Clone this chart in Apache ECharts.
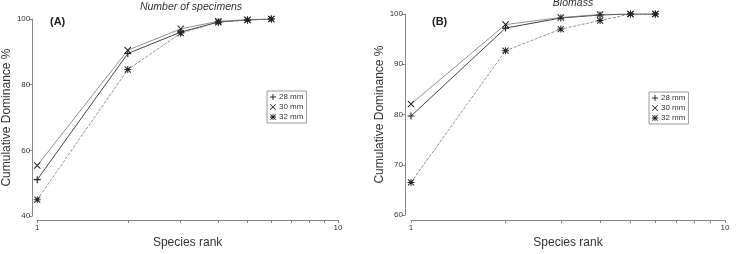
<!DOCTYPE html>
<html><head><meta charset="utf-8">
<script src="https://cdn.jsdelivr.net/npm/echarts@6/dist/echarts.min.js"></script>
<style>html,body{margin:0;padding:0;background:#fff}#c{width:739px;height:254px}</style>
</head><body><div id="c"></div>
<script>
const ranks = [1, 2, 3, 4, 5, 6];
const seriesNames = ['28 mm', '30 mm', '32 mm'];
// (A) Number of specimens
const specimens28 = [51.1, 89.5, 96.0, 99.1, 99.7, 100];
const specimens30 = [55.4, 90.5, 97.0, 99.3, 99.8, 100];
const specimens32 = [45.0, 84.6, 95.7, 99.0, 99.7, 100];
// (B) Biomass
const biomass28 = [79.7, 97.2, 99.2, 99.8, 100, 100];
const biomass30 = [82.1, 97.9, 99.3, 99.9, 100, 100];
const biomass32 = [66.5, 92.7, 97.0, 98.7, 100, 100];
const xTicks = [1, 2, 3, 4, 5, 6, 7, 8, 9, 10];
const xLabels = [1, 10];

const plusP = 'path://M4.2,0H5.8V10H4.2Z M0,4.2H10V5.8H0Z';
const crossP = 'path://M1,0L5,4L9,0L10,1L6,5L10,9L9,10L5,6L1,10L0,9L4,5L0,1Z';
const starP = 'path://M4.3,0H5.7V10H4.3Z M0,4.3H10V5.7H0Z M1.2,0.2L5,4L8.8,0.2L9.8,1.2L6,5L9.8,8.8L8.8,9.8L5,6L1.2,9.8L0.2,8.8L4,5L0.2,1.2Z';
const symbols = [plusP, crossP, starP];
const lineStyles = [
  {color: '#444', width: 1, type: 'solid'},
  {color: '#777', width: 0.8, type: 'solid'},
  {color: '#777', width: 0.8, type: [3, 1.5]}
];
const font = 'Arial, "Liberation Sans", sans-serif';
const axisCol = '#888';
const txtCol = '#333';

function pairs(vals) { return ranks.map((r, i) => [r, vals[i]]); }

function xAxis(idx, off) {
  return {
    type: 'log', logBase: 10, min: 1, max: 10, gridIndex: idx, offset: off,
    name: 'Species rank', nameLocation: 'middle', nameGap: 11,
    nameTextStyle: {fontFamily: font, fontSize: 12, color: txtCol},
    axisLine: {show: true, lineStyle: {color: axisCol, width: 1}},
    axisTick: {show: true, length: 3, customValues: xTicks, lineStyle: {color: axisCol}},
    axisLabel: {customValues: xLabels, fontSize: 8, fontFamily: font, color: txtCol, margin: 4},
    minorTick: {show: false}, splitLine: {show: false}
  };
}
function yAxis(idx, min, max, interval, off, gap) {
  return {
    type: 'value', min: min, max: max, interval: interval, gridIndex: idx, offset: off,
    name: 'Cumulative Dominance %', nameLocation: 'middle', nameGap: gap,
    nameTextStyle: {fontFamily: font, fontSize: 12, color: txtCol},
    axisLine: {show: true, lineStyle: {color: axisCol, width: 1}},
    axisTick: {show: true, length: 3, lineStyle: {color: axisCol}},
    axisLabel: {fontSize: 8, fontFamily: font, color: txtCol, margin: 2},
    splitLine: {show: false}
  };
}
function mkSeries(name, vals, i, idx) {
  return {
    name: name, type: 'line', xAxisIndex: idx, yAxisIndex: idx,
    data: pairs(vals), symbol: symbols[i], symbolSize: 7, showSymbol: true,
    itemStyle: {color: '#222'}, lineStyle: lineStyles[i], animation: false,
    emphasis: {disabled: true}
  };
}
function legend(left, top) {
  return {
    orient: 'vertical', left: left, top: top, itemWidth: 6, itemHeight: 6, itemGap: 2,
    padding: [2, 3, 2, 3], borderColor: '#999', borderWidth: 1,
    textStyle: {fontSize: 8, fontFamily: font, color: txtCol, padding: [0, 0, 0, -2]},
    data: seriesNames.map((n, i) => ({name: n, icon: symbols[i]})),
    selectedMode: false
  };
}

const chart = echarts.init(document.getElementById('c'), null, {renderer: 'canvas'});
chart.setOption({
  backgroundColor: '#fff',
  animation: false,
  grid: [
    {left: 34, width: 304, top: 19, height: 202},
    {left: 411, width: 314, top: 14, height: 209}
  ],
  xAxis: [xAxis(0, 4), xAxis(1, 5)],
  yAxis: [yAxis(0, 40, 100, 20, 5, 12), yAxis(1, 60, 100, 10, 6, 19)],
  legend: [legend(267, 91), legend(649, 92)],
  graphic: [
    {type: 'text', x: 191, y: 7, style: {text: 'Number of specimens', font: 'italic 10.5px ' + font, fill: txtCol, textAlign: 'center', textVerticalAlign: 'middle'}},
    {type: 'text', x: 573, y: 3, style: {text: 'Biomass', font: 'italic 10.5px ' + font, fill: txtCol, textAlign: 'center', textVerticalAlign: 'middle'}},
    {type: 'text', x: 50, y: 22, style: {text: '(A)', font: 'bold 11px ' + font, fill: '#222', textAlign: 'left', textVerticalAlign: 'middle'}},
    {type: 'text', x: 432, y: 22, style: {text: '(B)', font: 'bold 11px ' + font, fill: '#222', textAlign: 'left', textVerticalAlign: 'middle'}}
  ],
  series: [
    mkSeries('28 mm', specimens28, 0, 0),
    mkSeries('30 mm', specimens30, 1, 0),
    mkSeries('32 mm', specimens32, 2, 0),
    mkSeries('28 mm', biomass28, 0, 1),
    mkSeries('30 mm', biomass30, 1, 1),
    mkSeries('32 mm', biomass32, 2, 1)
  ]
});
</script></body></html>
